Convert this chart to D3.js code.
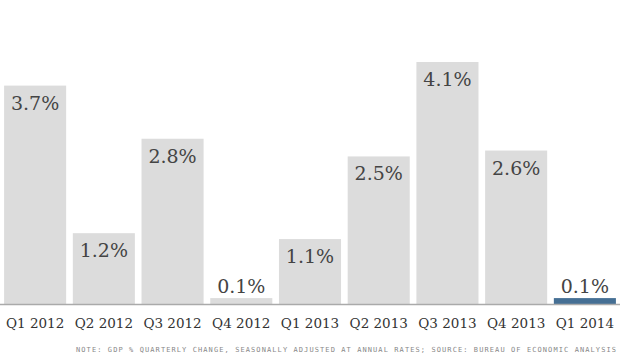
<!DOCTYPE html>
<html><head><meta charset="utf-8">
<script src="https://cdn.jsdelivr.net/npm/d3@7"></script>
<style>body{margin:0;background:#fff}svg{display:block}</style>
</head><body>
<script>
const categories = ["Q1 2012","Q2 2012","Q3 2012","Q4 2012","Q1 2013","Q2 2013","Q3 2013","Q4 2013","Q1 2014"];
const values = [3.7,1.2,2.8,0.1,1.1,2.5,4.1,2.6,0.1];
const valueLabels = ["3.7%","1.2%","2.8%","0.1%","1.1%","2.5%","4.1%","2.6%","0.1%"];
const highlighted = ["Q1 2014"];
const note = "NOTE: GDP % QUARTERLY CHANGE, SEASONALLY ADJUSTED AT ANNUAL RATES; SOURCE: BUREAU OF ECONOMIC ANALYSIS";

const W=620,H=355;
const svg=d3.select("body").append("svg").attr("width",W).attr("height",H);
const x=d3.scaleBand().domain(categories).range([1,619]).paddingInner(0.097).paddingOuter(0.045);
const y=d3.scaleLinear().domain([0,4.1]).range([304,62]);

svg.selectAll("rect.bar").data(categories).enter().append("rect")
  .attr("class","bar")
  .attr("x",d=>x(d)).attr("width",x.bandwidth())
  .attr("y",(d,i)=>y(values[i])).attr("height",(d,i)=>y(0)-y(values[i]))
  .attr("fill",d=>highlighted.includes(d)?"#456f94":"#dcdcdc");

svg.append("line").attr("x1",0).attr("x2",W).attr("y1",y(0)+0.5).attr("y2",y(0)+0.5)
  .attr("stroke","#aaa").attr("stroke-width",1.5);

svg.selectAll("text.val").data(categories).enter().append("text")
  .attr("class","val")
  .attr("x",d=>x(d)+x.bandwidth()/2)
  .attr("y",(d,i)=>{const t=y(values[i]); return (y(0)-t)>40 ? t+24 : t-5;})
  .attr("text-anchor","middle")
  .attr("font-family","DejaVu Serif, serif").attr("font-size",19)
  .attr("fill","#444")
  .text((d,i)=>valueLabels[i]);

const xAxis=d3.axisBottom(x).tickSize(0).tickPadding(0);
const g=svg.append("g").attr("transform",`translate(0,${y(0)})`).call(xAxis);
g.select(".domain").remove();
g.selectAll("text").attr("dy",0).attr("y",24)
  .attr("font-family","DejaVu Serif, serif").attr("font-size",13.5).attr("fill","#333");

svg.append("text").attr("x",616).attr("y",352).attr("text-anchor","end")
  .attr("font-family","DejaVu Sans Mono, monospace").attr("font-size",7).attr("fill","#888")
  .attr("textLength",540).attr("lengthAdjust","spacing")
  .text(note);
</script>
</body></html>
